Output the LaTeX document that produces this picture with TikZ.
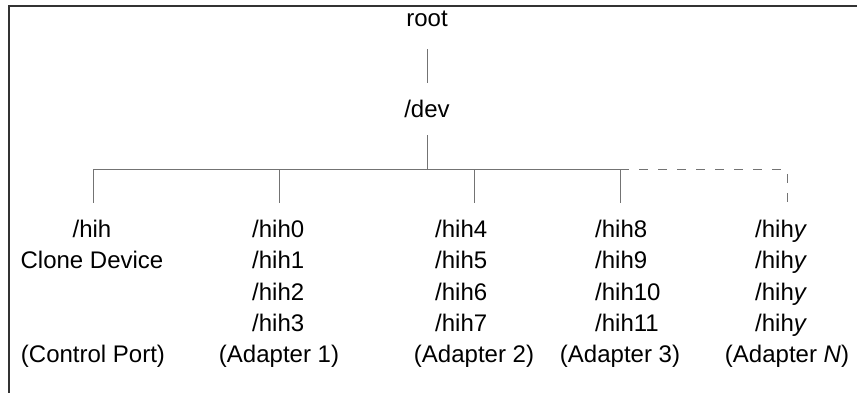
\documentclass[tikz,border=0pt]{standalone}
\usepackage{fontspec}
\setmainfont{Liberation Sans}
\begin{document}
\begin{tikzpicture}[x=1pt, y=1pt,
	entry/.style={font=\fontsize{24}{31.25}\selectfont, inner xsep=0pt, inner ysep=17pt},
	names/.style={entry, align=left, anchor=north west},
	port/.style={entry, anchor=base},
	branch/.style={draw=black!55, line width=1pt},
	border/.style={draw=black!80, line width=2pt}
]
\useasboundingbox (0,0) rectangle (857,393);
\draw[border] (8.5,0) |- (857,386.5);

% root and /dev
\node[port, inner ysep=22pt] (root) at (427,366) {root};
\node[port] (dev) at (427,275) {/dev};
\coordinate (bar) at (427,223);

% device names
\node[names, align=center, anchor=north] (hih) at (92,190) {/hih\\Clone Device};
\node[names] (hih0) at (252,190) {/hih0\\/hih1\\/hih2\\/hih3};
\node[names] (hih4) at (435,190) {/hih4\\/hih5\\/hih6\\/hih7};
\node[names] (hih8) at (595,190) {/hih8\\/hih9\\/hih10\\/hih11};
\node[names] (hihy) at (755,190) {/hih\textit{y}\\/hih\textit{y}\\/hih\textit{y}\\/hih\textit{y}};

% adapters
\node[port] (ctl) at (93,30) {(Control Port)};
\node[port] (ad1) at (279,30) {(Adapter 1)};
\node[port] (ad2) at (474,30) {(Adapter 2)};
\node[port] (ad3) at (620,30) {(Adapter 3)};
\node[port] (adN) at (787,30) {(Adapter \textit{N})};

\draw[branch] (root) -- (dev);
\draw[branch] (dev) -- (dev |- bar);
\draw[branch] (ctl |- bar) -- (ad3 |- bar);
\foreach \a/\n in {ctl/hih, ad1/hih0, ad2/hih4, ad3/hih8}
	\draw[branch] (\a |- bar) -- (\a |- \n.north);
\draw[branch, dash pattern=on 9pt off 10pt] (ad3 |- bar) -- (adN |- bar) -- (adN |- hihy.north);
\end{tikzpicture}
\end{document}
